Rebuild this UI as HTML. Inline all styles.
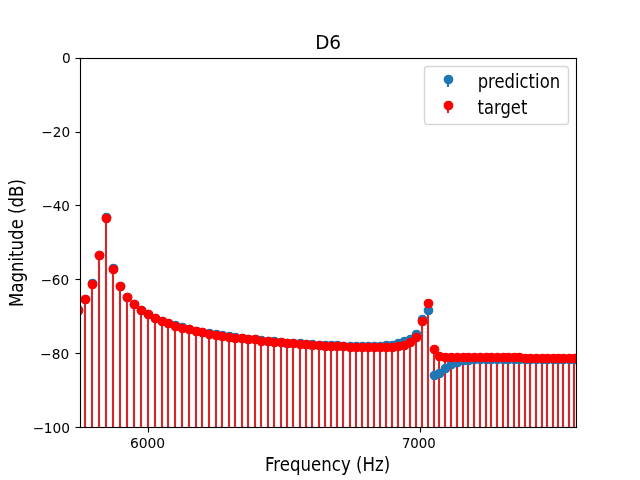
<!DOCTYPE html>
<html lang="en"><head><meta charset="utf-8"><title>D6</title>
<style>html,body{margin:0;padding:0;background:#fff}svg{display:block}</style></head>
<body>
<svg width="640" height="480" viewBox="0 0 640 480">
<rect width="640" height="480" fill="#fff"/>
<defs><clipPath id="c"><rect x="80" y="57.6" width="496" height="369.6"/></clipPath></defs>
<g clip-path="url(#c)">
<path d="M78 430V310.0M85 430V299.0M92 430V283.0M99 430V255.0M106 430V217.0M113 430V268.0M120 430V286.0M127 430V297.0M134 430V304.0M141 430V310.0M148 430V314.0M155 430V318.0M162 430V321.0M168 430V323.0M175 430V325.0M182 430V327.0M189 430V329.0M196 430V331.0M202 430V332.0M209 430V333.0M216 430V334.0M222 430V335.0M229 430V336.0M235 430V337.0M242 430V338.0M248 430V339.0M255 430V339.0M261 430V340.0M268 430V341.0M274 430V341.0M281 430V342.0M287 430V343.0M293 430V343.0M300 430V343.0M306 430V344.0M312 430V344.0M319 430V345.0M325 430V345.0M331 430V345.0M337 430V345.0M343 430V346.0M350 430V346.0M356 430V346.0M362 430V346.0M368 430V346.0M374 430V346.0M380 430V346.0M386 430V345.0M392 430V345.0M398 430V343.0M404 430V341.0M410 430V339.0M416 430V334.0M422 430V319.0M428 430V310.0M434 430V375.0M439 430V373.0M445 430V368.0M451 430V364.0M457 430V362.0M463 430V360.0M468 430V360.0M474 430V359.0M480 430V359.0M486 430V359.0M491 430V359.0M497 430V359.0M503 430V359.0M508 430V359.0M514 430V359.0M519 430V359.0M525 430V359.0M530 430V359.0M536 430V359.0M542 430V359.0M547 430V359.0M553 430V359.0M558 430V359.0M563 430V359.0M569 430V359.0M574 430V359.0M580 430V359.0" fill="none" stroke="#1f77b4" stroke-width="2.083"/>
<path d="M78 430V310.0M85 430V299.0M92 430V284.0M99 430V255.0M106 430V218.0M113 430V269.0M120 430V286.0M127 430V297.0M134 430V304.0M141 430V310.0M148 430V314.0M155 430V318.0M162 430V321.0M168 430V323.0M175 430V326.0M182 430V328.0M189 430V329.0M196 430V331.0M202 430V332.0M209 430V334.0M216 430V335.0M222 430V336.0M229 430V337.0M235 430V338.0M242 430V338.0M248 430V339.0M255 430V339.0M261 430V341.0M268 430V341.0M274 430V342.0M281 430V342.0M287 430V343.0M293 430V343.0M300 430V344.0M306 430V344.0M312 430V345.0M319 430V345.0M325 430V346.0M331 430V346.0M337 430V346.0M343 430V346.0M350 430V347.0M356 430V347.0M362 430V347.0M368 430V347.0M374 430V347.0M380 430V347.0M386 430V347.0M392 430V347.0M398 430V346.0M404 430V345.0M410 430V342.0M416 430V337.0M422 430V321.0M428 430V303.0M434 430V349.0M439 430V356.0M445 430V357.0M451 430V357.0M457 430V357.0M463 430V357.0M468 430V357.0M474 430V357.0M480 430V357.0M486 430V357.0M491 430V357.0M497 430V357.0M503 430V357.0M508 430V357.0M514 430V357.0M519 430V357.0M525 430V358.0M530 430V358.0M536 430V358.0M542 430V358.0M547 430V358.0M553 430V358.0M558 430V358.0M563 430V358.0M569 430V358.0M574 430V358.0M580 430V358.0" fill="none" stroke="#d62728" stroke-width="2.083"/>
<g fill="#1f77b4" stroke="#1f77b4" stroke-width="1.389">
<circle cx="78.5" cy="310.5" r="4.167"/>
<circle cx="85.5" cy="299.5" r="4.167"/>
<circle cx="92.5" cy="283.5" r="4.167"/>
<circle cx="99.5" cy="255.5" r="4.167"/>
<circle cx="106.5" cy="217.5" r="4.167"/>
<circle cx="113.5" cy="268.5" r="4.167"/>
<circle cx="120.5" cy="286.5" r="4.167"/>
<circle cx="127.5" cy="297.5" r="4.167"/>
<circle cx="134.5" cy="304.5" r="4.167"/>
<circle cx="141.5" cy="310.5" r="4.167"/>
<circle cx="148.5" cy="314.5" r="4.167"/>
<circle cx="155.5" cy="318.5" r="4.167"/>
<circle cx="162.5" cy="321.5" r="4.167"/>
<circle cx="168.5" cy="323.5" r="4.167"/>
<circle cx="175.5" cy="325.5" r="4.167"/>
<circle cx="182.5" cy="327.5" r="4.167"/>
<circle cx="189.5" cy="329.5" r="4.167"/>
<circle cx="196.5" cy="331.5" r="4.167"/>
<circle cx="202.5" cy="332.5" r="4.167"/>
<circle cx="209.5" cy="333.5" r="4.167"/>
<circle cx="216.5" cy="334.5" r="4.167"/>
<circle cx="222.5" cy="335.5" r="4.167"/>
<circle cx="229.5" cy="336.5" r="4.167"/>
<circle cx="235.5" cy="337.5" r="4.167"/>
<circle cx="242.5" cy="338.5" r="4.167"/>
<circle cx="248.5" cy="339.5" r="4.167"/>
<circle cx="255.5" cy="339.5" r="4.167"/>
<circle cx="261.5" cy="340.5" r="4.167"/>
<circle cx="268.5" cy="341.5" r="4.167"/>
<circle cx="274.5" cy="341.5" r="4.167"/>
<circle cx="281.5" cy="342.5" r="4.167"/>
<circle cx="287.5" cy="343.5" r="4.167"/>
<circle cx="293.5" cy="343.5" r="4.167"/>
<circle cx="300.5" cy="343.5" r="4.167"/>
<circle cx="306.5" cy="344.5" r="4.167"/>
<circle cx="312.5" cy="344.5" r="4.167"/>
<circle cx="319.5" cy="345.5" r="4.167"/>
<circle cx="325.5" cy="345.5" r="4.167"/>
<circle cx="331.5" cy="345.5" r="4.167"/>
<circle cx="337.5" cy="345.5" r="4.167"/>
<circle cx="343.5" cy="346.5" r="4.167"/>
<circle cx="350.5" cy="346.5" r="4.167"/>
<circle cx="356.5" cy="346.5" r="4.167"/>
<circle cx="362.5" cy="346.5" r="4.167"/>
<circle cx="368.5" cy="346.5" r="4.167"/>
<circle cx="374.5" cy="346.5" r="4.167"/>
<circle cx="380.5" cy="346.5" r="4.167"/>
<circle cx="386.5" cy="345.5" r="4.167"/>
<circle cx="392.5" cy="345.5" r="4.167"/>
<circle cx="398.5" cy="343.5" r="4.167"/>
<circle cx="404.5" cy="341.5" r="4.167"/>
<circle cx="410.5" cy="339.5" r="4.167"/>
<circle cx="416.5" cy="334.5" r="4.167"/>
<circle cx="422.5" cy="319.5" r="4.167"/>
<circle cx="428.5" cy="310.5" r="4.167"/>
<circle cx="434.5" cy="375.5" r="4.167"/>
<circle cx="439.5" cy="373.5" r="4.167"/>
<circle cx="445.5" cy="368.5" r="4.167"/>
<circle cx="451.5" cy="364.5" r="4.167"/>
<circle cx="457.5" cy="362.5" r="4.167"/>
<circle cx="463.5" cy="360.5" r="4.167"/>
<circle cx="468.5" cy="360.5" r="4.167"/>
<circle cx="474.5" cy="359.5" r="4.167"/>
<circle cx="480.5" cy="359.5" r="4.167"/>
<circle cx="486.5" cy="359.5" r="4.167"/>
<circle cx="491.5" cy="359.5" r="4.167"/>
<circle cx="497.5" cy="359.5" r="4.167"/>
<circle cx="503.5" cy="359.5" r="4.167"/>
<circle cx="508.5" cy="359.5" r="4.167"/>
<circle cx="514.5" cy="359.5" r="4.167"/>
<circle cx="519.5" cy="359.5" r="4.167"/>
<circle cx="525.5" cy="359.5" r="4.167"/>
<circle cx="530.5" cy="359.5" r="4.167"/>
<circle cx="536.5" cy="359.5" r="4.167"/>
<circle cx="542.5" cy="359.5" r="4.167"/>
<circle cx="547.5" cy="359.5" r="4.167"/>
<circle cx="553.5" cy="359.5" r="4.167"/>
<circle cx="558.5" cy="359.5" r="4.167"/>
<circle cx="563.5" cy="359.5" r="4.167"/>
<circle cx="569.5" cy="359.5" r="4.167"/>
<circle cx="574.5" cy="359.5" r="4.167"/>
<circle cx="580.5" cy="359.5" r="4.167"/>
</g>
<g fill="#ff0000" stroke="#ff0000" stroke-width="1.389">
<circle cx="78.5" cy="310.5" r="4.167"/>
<circle cx="85.5" cy="299.5" r="4.167"/>
<circle cx="92.5" cy="284.5" r="4.167"/>
<circle cx="99.5" cy="255.5" r="4.167"/>
<circle cx="106.5" cy="218.5" r="4.167"/>
<circle cx="113.5" cy="269.5" r="4.167"/>
<circle cx="120.5" cy="286.5" r="4.167"/>
<circle cx="127.5" cy="297.5" r="4.167"/>
<circle cx="134.5" cy="304.5" r="4.167"/>
<circle cx="141.5" cy="310.5" r="4.167"/>
<circle cx="148.5" cy="314.5" r="4.167"/>
<circle cx="155.5" cy="318.5" r="4.167"/>
<circle cx="162.5" cy="321.5" r="4.167"/>
<circle cx="168.5" cy="323.5" r="4.167"/>
<circle cx="175.5" cy="326.5" r="4.167"/>
<circle cx="182.5" cy="328.5" r="4.167"/>
<circle cx="189.5" cy="329.5" r="4.167"/>
<circle cx="196.5" cy="331.5" r="4.167"/>
<circle cx="202.5" cy="332.5" r="4.167"/>
<circle cx="209.5" cy="334.5" r="4.167"/>
<circle cx="216.5" cy="335.5" r="4.167"/>
<circle cx="222.5" cy="336.5" r="4.167"/>
<circle cx="229.5" cy="337.5" r="4.167"/>
<circle cx="235.5" cy="338.5" r="4.167"/>
<circle cx="242.5" cy="338.5" r="4.167"/>
<circle cx="248.5" cy="339.5" r="4.167"/>
<circle cx="255.5" cy="339.5" r="4.167"/>
<circle cx="261.5" cy="341.5" r="4.167"/>
<circle cx="268.5" cy="341.5" r="4.167"/>
<circle cx="274.5" cy="342.5" r="4.167"/>
<circle cx="281.5" cy="342.5" r="4.167"/>
<circle cx="287.5" cy="343.5" r="4.167"/>
<circle cx="293.5" cy="343.5" r="4.167"/>
<circle cx="300.5" cy="344.5" r="4.167"/>
<circle cx="306.5" cy="344.5" r="4.167"/>
<circle cx="312.5" cy="345.5" r="4.167"/>
<circle cx="319.5" cy="345.5" r="4.167"/>
<circle cx="325.5" cy="346.5" r="4.167"/>
<circle cx="331.5" cy="346.5" r="4.167"/>
<circle cx="337.5" cy="346.5" r="4.167"/>
<circle cx="343.5" cy="346.5" r="4.167"/>
<circle cx="350.5" cy="347.5" r="4.167"/>
<circle cx="356.5" cy="347.5" r="4.167"/>
<circle cx="362.5" cy="347.5" r="4.167"/>
<circle cx="368.5" cy="347.5" r="4.167"/>
<circle cx="374.5" cy="347.5" r="4.167"/>
<circle cx="380.5" cy="347.5" r="4.167"/>
<circle cx="386.5" cy="347.5" r="4.167"/>
<circle cx="392.5" cy="347.5" r="4.167"/>
<circle cx="398.5" cy="346.5" r="4.167"/>
<circle cx="404.5" cy="345.5" r="4.167"/>
<circle cx="410.5" cy="342.5" r="4.167"/>
<circle cx="416.5" cy="337.5" r="4.167"/>
<circle cx="422.5" cy="321.5" r="4.167"/>
<circle cx="428.5" cy="303.5" r="4.167"/>
<circle cx="434.5" cy="349.5" r="4.167"/>
<circle cx="439.5" cy="356.5" r="4.167"/>
<circle cx="445.5" cy="357.5" r="4.167"/>
<circle cx="451.5" cy="357.5" r="4.167"/>
<circle cx="457.5" cy="357.5" r="4.167"/>
<circle cx="463.5" cy="357.5" r="4.167"/>
<circle cx="468.5" cy="357.5" r="4.167"/>
<circle cx="474.5" cy="357.5" r="4.167"/>
<circle cx="480.5" cy="357.5" r="4.167"/>
<circle cx="486.5" cy="357.5" r="4.167"/>
<circle cx="491.5" cy="357.5" r="4.167"/>
<circle cx="497.5" cy="357.5" r="4.167"/>
<circle cx="503.5" cy="357.5" r="4.167"/>
<circle cx="508.5" cy="357.5" r="4.167"/>
<circle cx="514.5" cy="357.5" r="4.167"/>
<circle cx="519.5" cy="357.5" r="4.167"/>
<circle cx="525.5" cy="358.5" r="4.167"/>
<circle cx="530.5" cy="358.5" r="4.167"/>
<circle cx="536.5" cy="358.5" r="4.167"/>
<circle cx="542.5" cy="358.5" r="4.167"/>
<circle cx="547.5" cy="358.5" r="4.167"/>
<circle cx="553.5" cy="358.5" r="4.167"/>
<circle cx="558.5" cy="358.5" r="4.167"/>
<circle cx="563.5" cy="358.5" r="4.167"/>
<circle cx="569.5" cy="358.5" r="4.167"/>
<circle cx="574.5" cy="358.5" r="4.167"/>
<circle cx="580.5" cy="358.5" r="4.167"/>
</g>
</g>
<g fill="#000">
<rect x="75.5" y="57.944" width="5" height="1.111"/>
<rect x="75.5" y="131.945" width="5" height="1.111"/>
<rect x="75.5" y="204.945" width="5" height="1.111"/>
<rect x="75.5" y="278.945" width="5" height="1.111"/>
<rect x="75.5" y="352.945" width="5" height="1.111"/>
<rect x="75.5" y="426.945" width="5" height="1.111"/>
<rect x="147.945" y="427.5" width="1.111" height="5"/>
<rect x="419.945" y="427.5" width="1.111" height="5"/>
<rect x="79.945" y="57.944" width="1.111" height="370.111"/>
<rect x="575.944" y="57.944" width="1.111" height="370.111"/>
<rect x="79.945" y="57.944" width="497.111" height="1.111"/>
<rect x="79.945" y="426.945" width="497.111" height="1.111"/>
</g>
<rect x="424.5" y="66.5" width="144" height="58" rx="3.33" fill="#fff" fill-opacity="0.8" stroke="#ccc" stroke-opacity="0.8" stroke-width="1.389"/>
<path d="M448 79.5V87.0" stroke="#1f77b4" stroke-width="2.083" fill="none"/><circle cx="448.5" cy="79.5" r="4.167" fill="#1f77b4" stroke="#1f77b4" stroke-width="1.389"/><path d="M448 105.5V113.0" stroke="#d62728" stroke-width="2.083" fill="none"/><circle cx="448.5" cy="105.5" r="4.167" fill="#ff0000" stroke="#ff0000" stroke-width="1.389"/>
<g font-family="'DejaVu Sans','Liberation Sans',sans-serif" fill="#000">
<text transform="translate(147.58 448.07) scale(1.0011 1.0266)" font-size="13.889" text-anchor="middle" letter-spacing="-0.050" stroke="#000" stroke-width="0.013">6000</text>
<text transform="translate(418.86 448.07) scale(0.9616 0.9652)" font-size="13.889" text-anchor="middle" stroke="#000" stroke-width="0.050">7000</text>
<text transform="translate(70.88 62.89) scale(0.9909 1.0725)" font-size="13.889" text-anchor="end" stroke="#000" stroke-width="0.038">0</text>
<text transform="translate(70.21 136.79) scale(0.9832 1.0225)" font-size="13.889" text-anchor="end" stroke="#000" stroke-width="0.025">−20</text>
<text transform="translate(69.97 210.69) scale(0.9737 0.9635)" font-size="13.889" text-anchor="end" stroke="#000" stroke-width="0.013">−40</text>
<text transform="translate(69.02 284.72) scale(0.9774 0.9598)" font-size="13.889" text-anchor="end" stroke="#000" stroke-width="0.025">−60</text>
<text transform="translate(69.16 358.57) scale(0.9886 1.0144)" font-size="13.889" text-anchor="end" stroke="#000" stroke-width="0.025">−80</text>
<text transform="translate(69.90 433.47) scale(0.9890 0.9541)" font-size="13.889" text-anchor="end" letter-spacing="-0.050" stroke="#000" stroke-width="0.025">−100</text>
<text transform="translate(327.64 470.62) scale(0.9971 1.1140)" font-size="16.667" text-anchor="middle">Frequency (Hz)</text>
<text transform="translate(22.62 243.02) rotate(-90) scale(0.9934 1.1727)" font-size="16.667" text-anchor="middle" letter-spacing="0.013" stroke="#000" stroke-width="0.013">Magnitude (dB)</text>
<text transform="translate(477.64 87.82) scale(0.9865 1.1927)" font-size="16.667" text-anchor="start">prediction</text>
<text transform="translate(477.62 113.83) scale(0.9819 1.1614)" font-size="16.667" text-anchor="start">target</text>
<text transform="translate(328.14 49.27) scale(0.9510 1.0173)" font-size="19.444" text-anchor="middle" stroke="#000" stroke-width="0.038">D6</text>
</g>
</svg>
</body></html>
